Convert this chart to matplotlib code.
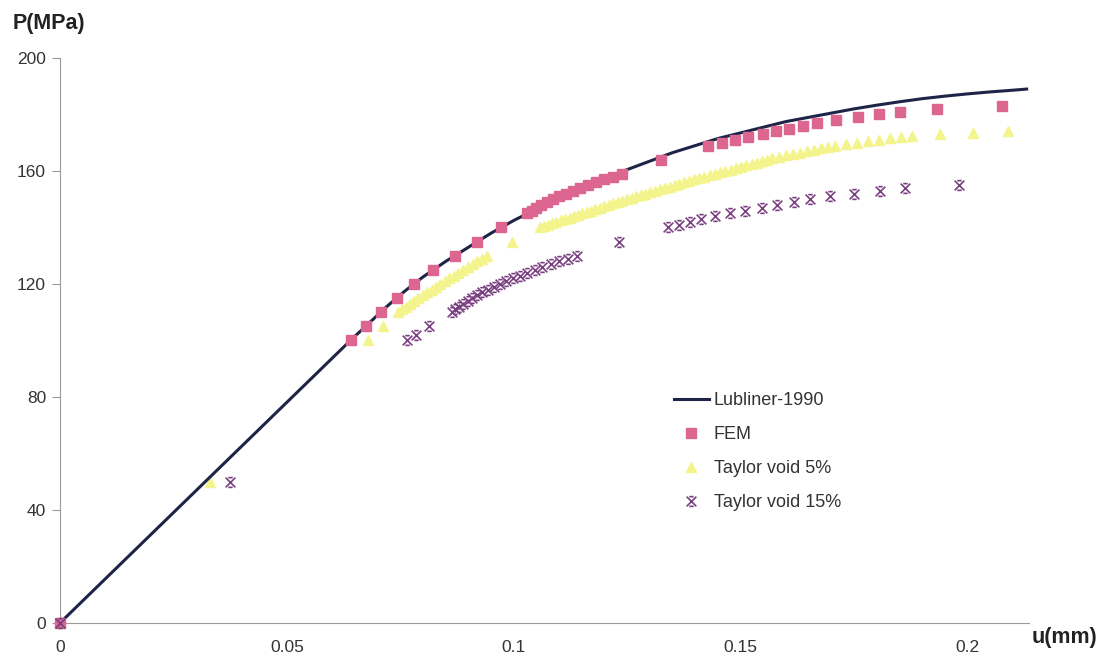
import numpy as np
import matplotlib
matplotlib.use("Agg")
import matplotlib.pyplot as plt
from matplotlib.path import Path

# Lubliner (1990) analytical curve
lub_u = [0, 0.064, 0.068, 0.072, 0.076, 0.080, 0.085, 0.090, 0.095, 0.100,
         0.105, 0.110, 0.115, 0.120, 0.125, 0.130, 0.135, 0.140, 0.145,
         0.150, 0.155, 0.160, 0.165, 0.170, 0.175, 0.180, 0.185, 0.190,
         0.195, 0.200, 0.205, 0.210, 0.213]
lub_p = [0, 100, 106, 112, 117.5, 122.5, 128, 133, 138, 142.5,
         146.5, 150.5, 154, 157.5, 160.5, 163.5, 166.5, 169, 171.5,
         173.5, 175.5, 177.5, 179, 180.5, 182, 183.3, 184.5, 185.6,
         186.5, 187.3, 188, 188.6, 189]

# FEM results
fem_u = [0, 0.0641, 0.0674, 0.0707, 0.0742, 0.0780, 0.0822, 0.0870, 0.0920,
         0.0971,
         0.1029, 0.1039, 0.1050, 0.1061, 0.1074, 0.1087, 0.1100, 0.1115,
         0.1130, 0.1146, 0.1163, 0.1181, 0.1199, 0.1218, 0.1238,
         0.1324,
         0.1427, 0.1458, 0.1487, 0.1515, 0.1548, 0.1577, 0.1606, 0.1637,
         0.1667, 0.1709, 0.1758, 0.1804, 0.1850, 0.1932, 0.2075]
fem_p = [0, 100, 105, 110, 115, 120, 125, 130, 135,
         140,
         145, 146, 147, 148, 149, 150, 151, 152,
         153, 154, 155, 156, 157, 158, 159,
         164,
         169, 170, 171, 172, 173, 174, 175, 176,
         177, 178, 179, 180, 181, 182, 183]

# Taylor model, 5% voids
t5_u = [0, 0.0330, 0.0678, 0.0711,
        0.0744, 0.0753, 0.0762, 0.0771, 0.0781, 0.0790, 0.0799, 0.0809,
        0.0819, 0.0828, 0.0838, 0.0848, 0.0858, 0.0868, 0.0878, 0.0888,
        0.0899, 0.0909, 0.0920, 0.0930, 0.0941,
        0.0996,
        0.1057, 0.1066, 0.1076, 0.1085, 0.1094, 0.1104, 0.1113, 0.1123,
        0.1132, 0.1142, 0.1151, 0.1161, 0.1170, 0.1180, 0.1189,
        0.1199, 0.1209, 0.1219, 0.1229, 0.1239, 0.1249, 0.1260, 0.1270,
        0.1280, 0.1290, 0.1300,
        0.1311, 0.1322, 0.1333, 0.1344, 0.1355, 0.1365, 0.1376, 0.1387,
        0.1398, 0.1409, 0.1420,
        0.1432, 0.1443, 0.1455, 0.1466, 0.1478, 0.1489, 0.1501, 0.1512,
        0.1524, 0.1535, 0.1547, 0.1558, 0.1570,
        0.1585, 0.1600, 0.1616, 0.1631, 0.1646, 0.1661, 0.1677, 0.1692,
        0.1707,
        0.1731, 0.1756, 0.1780, 0.1804, 0.1828, 0.1853, 0.1877,
        0.1940, 0.2011, 0.2088]
t5_p = [0, 50, 100, 105,
        110, 111, 112, 113, 114, 115, 116, 117,
        118, 119, 120, 121, 122, 123, 124, 125,
        126, 127, 128, 129, 130,
        135,
        140, 140.5, 141, 141.5, 142, 142.5, 143, 143.5,
        144, 144.5, 145, 145.5, 146, 146.5, 147,
        147.5, 148, 148.5, 149, 149.5, 150, 150.5, 151,
        151.5, 152, 152.5,
        153, 153.5, 154, 154.5, 155, 155.5, 156, 156.5,
        157, 157.5, 158,
        158.5, 159, 159.5, 160, 160.5, 161, 161.5, 162,
        162.5, 163, 163.5, 164, 164.5,
        165, 165.5, 166, 166.5, 167, 167.5, 168, 168.5,
        169,
        169.5, 170, 170.5, 171, 171.5, 172, 172.5,
        173, 173.5, 174]

# Taylor model, 15% voids
t15_u = [0, 0.0374, 0.0764, 0.0784, 0.0813,
         0.0863, 0.0871, 0.0879, 0.0888, 0.0898, 0.0908, 0.0919, 0.0931,
         0.0943, 0.0956, 0.0969, 0.0983, 0.0998, 0.1013, 0.1029, 0.1046,
         0.1063, 0.1081, 0.1100, 0.1119, 0.1139,
         0.1231,
         0.1339, 0.1363, 0.1388, 0.1412, 0.1443, 0.1476, 0.1509, 0.1546,
         0.1579, 0.1617, 0.1652, 0.1696, 0.1749, 0.1806, 0.1861, 0.1982]
t15_p = [0, 50, 100, 102, 105,
         110, 111, 112, 113, 114, 115, 116, 117,
         118, 119, 120, 121, 122, 123, 124, 125,
         126, 127, 128, 129, 130,
         135,
         140, 141, 142, 143, 144, 145, 146, 147,
         148, 149, 150, 151, 152, 153, 154, 155]

y_ticks = [0, 40, 80, 120, 160, 200]
x_ticks = [0, 0.05, 0.1, 0.15, 0.2]
x_tick_labels = ["0", "0.05", "0.1", "0.15", "0.2"]

# x with short caps top and bottom
cap_x = Path([(-1, -1), (1, 1), (-1, 1), (1, -1),
              (-0.45, 1), (0.45, 1), (-0.45, -1), (0.45, -1)],
             [Path.MOVETO, Path.LINETO] * 4)

plt.rcParams['font.family'] = ['Liberation Sans', 'DejaVu Sans']

fig = plt.figure(figsize=(11.04, 6.65), dpi=100)
ax = fig.add_axes([0.0543, 0.0632, 0.8777, 0.8496])

ax.plot(lub_u, lub_p, color='#1e2447', lw=2.2, label='Lubliner-1990',
        zorder=3)
ax.plot(fem_u, fem_p, ls='none', marker='s', ms=7, color='#dc6690',
        mec='#dc6690', label='FEM', zorder=4, clip_on=False)
ax.plot(t5_u, t5_p, ls='none', marker='^', ms=7, color='#f4f48c',
        mec='#f4f48c', label='Taylor void 5%', zorder=2, clip_on=False)
ax.plot(t15_u, t15_p, ls='none', marker=cap_x, ms=7, mfc='none',
        mec='#7a3f80', mew=1.2, label='Taylor void 15%', zorder=5,
        clip_on=False)

ax.set_xlim(0, 0.2135)
ax.set_ylim(0, 200)
ax.set_xticks(x_ticks)
ax.set_xticklabels(x_tick_labels)
ax.set_yticks(y_ticks)

for side in ['top', 'right']:
    ax.spines[side].set_visible(False)
ax.spines['left'].set_color('#9a9a9a')
ax.spines['bottom'].set_color('#9a9a9a')
ax.spines['left'].set_linewidth(0.8)
ax.spines['bottom'].set_linewidth(0.8)
ax.tick_params(axis='y', direction='out', length=6, width=0.8,
               color='#9a9a9a', labelsize=12.5, labelcolor='#333333', pad=4)
ax.tick_params(axis='x', direction='in', length=0, labelsize=12.5,
               labelcolor='#333333', pad=12)

fig.text(0.011, 0.965, 'P(MPa)', fontsize=15.5, fontweight='bold',
         color='#222222', ha='left', va='center')
fig.text(0.934, 0.042, 'u(mm)', fontsize=15.5, fontweight='bold',
         color='#222222', ha='left', va='center')

ax.legend(loc='upper left', bbox_to_anchor=(0.596, 0.435),
          bbox_transform=fig.transFigure, frameon=False, fontsize=13,
          handlelength=1.9, handletextpad=0.3, labelspacing=0.95,
          labelcolor='#333333')

fig.savefig('out.png', dpi=100)
